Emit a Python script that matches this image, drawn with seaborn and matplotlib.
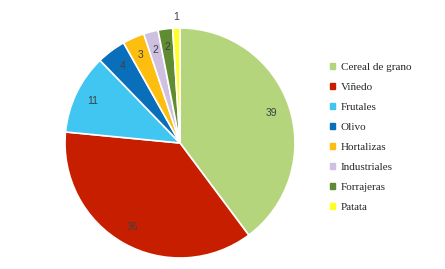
import matplotlib
matplotlib.use("Agg")
import matplotlib.pyplot as plt
import matplotlib.patches as mpatches
import seaborn as sns
import numpy as np

categories = ["Cereal de grano", "Viñedo", "Frutales", "Olivo",
              "Hortalizas", "Industriales", "Forrajeras", "Patata"]
values = [39, 36, 11, 4, 3, 2, 2, 1]
colors = ["#B4D57C", "#C81E00", "#40C6F0", "#0A6FBA",
          "#FDBE10", "#CFC0E2", "#5F8B33", "#FFFF26"]

sns.set_style("white")

fig = plt.figure(figsize=(4.45, 2.69), dpi=100)
ax = fig.add_axes([65 / 445, (269 - 143 - 115) / 269, 230 / 445, 230 / 269])

wedges, _ = ax.pie(values, colors=colors, startangle=90, counterclock=False,
                   radius=1.0, wedgeprops=dict(edgecolor="white", linewidth=1.2))
ax.set_xlim(-1, 1)
ax.set_ylim(-1, 1)
ax.set_aspect("equal")
ax.axis("off")

# value labels near the rim; the smallest slice gets its label outside
for w, v in zip(wedges, values):
    ang = np.deg2rad((w.theta1 + w.theta2) / 2)
    dist = 1.1 if v == 1 else 0.84
    ax.text(dist * np.cos(ang), dist * np.sin(ang), str(v),
            ha="center", va="center", fontsize=7.5, color="#404040",
            family="Liberation Sans")

handles = [mpatches.Patch(color=c, label=l) for c, l in zip(colors, categories)]
fig.legend(handles=handles, loc="upper left", bbox_to_anchor=(324 / 445, 1 - 57 / 269),
           frameon=False, prop=dict(family="Liberation Serif", size=8),
           handlelength=0.5, handleheight=0.5, handletextpad=0.5,
           labelspacing=0.98, borderpad=0)

fig.savefig("out.png", dpi=100, facecolor="white")
